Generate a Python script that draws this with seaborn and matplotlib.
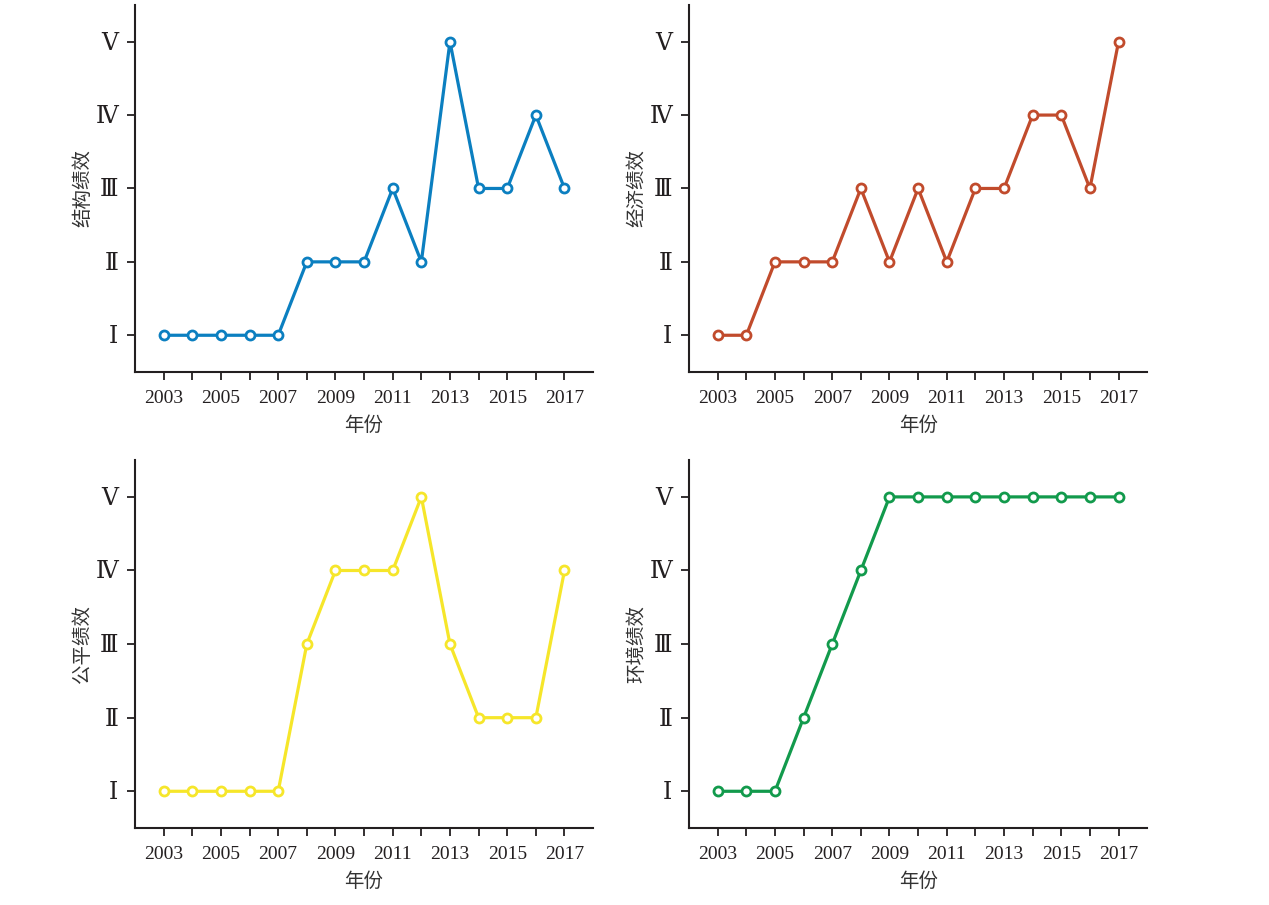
import numpy as np
import matplotlib
matplotlib.use('Agg')
import matplotlib.pyplot as plt
import seaborn as sns
import pandas as pd

# ============================================
# Data
# ============================================
YEARS = list(range(2003, 2018))
LEVEL_LABELS = ['Ⅰ', 'Ⅱ', 'Ⅲ', 'Ⅳ', 'Ⅴ']

structure = [1, 1, 1, 1, 1, 2, 2, 2, 3, 2, 5, 3, 3, 4, 3]
economy = [1, 1, 2, 2, 2, 3, 2, 3, 2, 3, 3, 4, 4, 3, 5]
fairness = [1, 1, 1, 1, 1, 3, 4, 4, 4, 5, 3, 2, 2, 2, 4]
environment = [1, 1, 1, 2, 3, 4, 5, 5, 5, 5, 5, 5, 5, 5, 5]

PANELS = [
    ('结构绩效', structure, '#0b7fc0'),
    ('经济绩效', economy, '#c14b2c'),
    ('公平绩效', fairness, '#f6e62a'),
    ('环境绩效', environment, '#129a4c'),
]

sns.set_theme(style='ticks')
plt.rcParams['font.family'] = ['Liberation Serif', 'DejaVu Serif', 'Noto Sans CJK SC']
CJK = ['Noto Sans CJK SC', 'DejaVu Sans']
INK = '#231f20'

fig = plt.figure(figsize=(12.69, 9.05), dpi=100)
positions = [
    [0.1064, 0.589, 0.361, 0.4055],
    [0.543, 0.589, 0.361, 0.4055],
    [0.1064, 0.085, 0.361, 0.4066],
    [0.543, 0.085, 0.361, 0.4066],
]

for (name, vals, color), pos in zip(PANELS, positions):
    ax = fig.add_axes(pos)
    df = pd.DataFrame({'year': YEARS, 'level': vals})
    sns.lineplot(data=df, x='year', y='level', ax=ax, color=color, linewidth=2.3,
                 marker='o', markersize=6.5, markerfacecolor='white',
                 markeredgecolor=color, markeredgewidth=2.0)
    ax.set_xlim(2002, 2018)
    ax.set_ylim(0.5, 5.5)
    ax.set_xticks(YEARS)
    ax.set_xticklabels([str(y) if (y - 2003) % 2 == 0 else '' for y in YEARS], fontsize=14)
    ax.set_yticks([1, 2, 3, 4, 5])
    ax.set_yticklabels(LEVEL_LABELS, fontsize=17)
    ax.tick_params(axis='both', direction='out', length=6, width=1.3, color=INK, labelcolor=INK)
    ax.tick_params(axis='y', pad=6)
    ax.tick_params(axis='x', pad=7)
    for side in ['top', 'right']:
        ax.spines[side].set_visible(False)
    for side in ['left', 'bottom']:
        ax.spines[side].set_color(INK)
        ax.spines[side].set_linewidth(1.5)
    ax.set_xlabel('年份', fontsize=14, family=CJK, color='#333333', labelpad=6)
    ax.set_ylabel(name, fontsize=14, family=CJK, color='#333333')
    ax.yaxis.set_label_coords(-0.092, 0.5)

fig.savefig('out.png', dpi=100, facecolor='white')
